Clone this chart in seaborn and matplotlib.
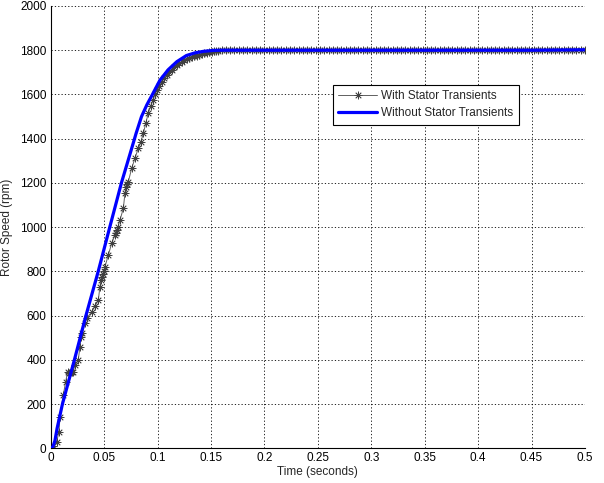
import numpy as np
import pandas as pd
import seaborn as sns
import matplotlib
matplotlib.use("Agg")
import matplotlib.pyplot as plt

# ------------------------------------------------------------
# Data (rotor speed start-up, rpm)
# ------------------------------------------------------------
# Without stator transients (smooth blue curve)
t_without = [0, 0.002, 0.004, 0.006, 0.011, 0.0222, 0.033, 0.0445, 0.0553,
             0.0662, 0.0742, 0.0800, 0.0850, 0.0900, 0.0950, 0.1023, 0.110,
             0.118, 0.127, 0.135, 0.143, 0.152, 0.160, 0.250, 0.350, 0.450,
             0.500]
speed_without = [0, 6, 35, 90, 200, 400, 600, 800, 1000,
                 1200, 1330, 1425, 1500, 1553, 1598, 1665, 1712,
                 1748, 1776, 1788, 1795, 1799, 1800, 1800, 1800, 1800,
                 1802]

# With stator transients (grey line, one marker per solver sample)
t_with = [0, 0.0025, 0.0056, 0.0078, 0.0087, 0.0118, 0.014, 0.0159, 0.0175,
          0.0195, 0.0212, 0.0227, 0.0258, 0.0274, 0.0284, 0.0296, 0.0321,
          0.0337, 0.0384, 0.0415, 0.0446, 0.0461, 0.0470, 0.0477, 0.0490,
          0.0500, 0.0508, 0.0539, 0.0571, 0.0602, 0.0610, 0.0618, 0.0630,
          0.0649, 0.0680, 0.0695, 0.0705, 0.0715, 0.0727, 0.0758, 0.0789,
          0.0820, 0.0845, 0.0867, 0.0890, 0.0913, 0.0937, 0.0960, 0.0976,
          0.0992, 0.1015, 0.1039, 0.1062, 0.1086, 0.1109, 0.1132, 0.1156,
          0.1180, 0.1203, 0.1226, 0.1250, 0.1273, 0.1297, 0.1320, 0.1343,
          0.1366, 0.1390, 0.1413, 0.1437, 0.1460, 0.1483, 0.1507, 0.1530,
          0.1550, 0.1565,
          0.160, 0.164, 0.168, 0.172, 0.176, 0.180, 0.184, 0.188, 0.192, 0.196,
          0.200, 0.204, 0.208, 0.212, 0.216, 0.220, 0.224, 0.228, 0.232, 0.236,
          0.240, 0.244, 0.248, 0.252, 0.256, 0.260, 0.264, 0.268, 0.272, 0.276,
          0.280, 0.284, 0.288, 0.292, 0.296, 0.300, 0.304, 0.308, 0.312, 0.316,
          0.320, 0.324, 0.328, 0.332, 0.336, 0.340, 0.344, 0.348, 0.352, 0.356,
          0.360, 0.364, 0.368, 0.372, 0.376, 0.380, 0.384, 0.388, 0.392, 0.396,
          0.400, 0.404, 0.408, 0.412, 0.416, 0.420, 0.424, 0.428, 0.432, 0.436,
          0.440, 0.444, 0.448, 0.452, 0.456, 0.460, 0.464, 0.468, 0.472, 0.476,
          0.480, 0.484, 0.488, 0.492, 0.496, 0.500]
speed_with = [7, 12, 30, 75, 143, 241, 301, 346, 340,
              343, 346, 377, 399, 459, 505, 520, 565,
              588, 618, 645, 671, 731, 760, 776, 790,
              800, 821, 874, 927, 964, 975, 987, 1000,
              1032, 1085, 1153, 1180, 1195, 1206, 1266, 1311,
              1357, 1387, 1424, 1470, 1515, 1548, 1575, 1600,
              1620, 1640, 1658, 1674, 1688, 1700, 1710, 1722,
              1733, 1741, 1748, 1754, 1759, 1764, 1768, 1772,
              1775, 1779, 1783, 1786, 1789, 1791, 1793, 1795,
              1797, 1798,
              1799, 1800, 1799, 1801, 1800, 1799, 1800, 1801, 1800, 1799,
              1800, 1801, 1800, 1799, 1800, 1800, 1801, 1799, 1800, 1800,
              1799, 1800, 1801, 1800, 1799, 1800, 1800, 1801, 1800, 1799,
              1800, 1801, 1800, 1799, 1800, 1800, 1801, 1800, 1799, 1800,
              1800, 1801, 1799, 1800, 1800, 1801, 1800, 1799, 1800, 1800,
              1801, 1800, 1799, 1800, 1801, 1800, 1800, 1799, 1800, 1801,
              1800, 1799, 1800, 1801, 1800, 1800, 1799, 1800, 1801, 1800,
              1799, 1800, 1801, 1800, 1800, 1799, 1801, 1800, 1799, 1800,
              1801, 1800, 1800, 1799, 1800, 1801]

x_ticks = [0, 0.05, 0.1, 0.15, 0.2, 0.25, 0.3, 0.35, 0.4, 0.45, 0.5]
x_tick_labels = ["0", "0.05", "0.1", "0.15", "0.2", "0.25", "0.3", "0.35",
                 "0.4", "0.45", "0.5"]
y_ticks = [0, 200, 400, 600, 800, 1000, 1200, 1400, 1600, 1800, 2000]

# ------------------------------------------------------------
# Style (MATLAB-like figure)
# ------------------------------------------------------------
sns.set_style("white")
plt.rcParams["font.family"] = ["Liberation Sans", "DejaVu Sans"]

fig = plt.figure(figsize=(6.04, 4.83), dpi=100)
ax = fig.add_axes([0.0839, 0.0718, 0.8846, 0.9158])

sns.lineplot(x=t_with, y=speed_with, ax=ax, sort=False, estimator=None,
             color="#606060", linewidth=0.7, marker=(8, 2, 0), markersize=5.5,
             markeredgewidth=0.55, markeredgecolor="#404040",
             label="With Stator Transients", zorder=2)
sns.lineplot(x=t_without, y=speed_without, ax=ax, sort=False, estimator=None,
             color="#0000ff", linewidth=2.3, label="Without Stator Transients",
             zorder=3)

ax.set_xlim(0, 0.5)
ax.set_ylim(0, 2000)
ax.set_xticks(x_ticks)
ax.set_xticklabels(x_tick_labels)
ax.set_yticks(y_ticks)

ax.grid(True, color="black", linestyle=(0, (1.5, 2.5)), linewidth=0.6)
ax.set_axisbelow(True)
for side in ["top", "right"]:
    ax.spines[side].set_visible(False)
for side in ["left", "bottom"]:
    ax.spines[side].set_color("black")
    ax.spines[side].set_linewidth(0.8)

ax.tick_params(direction="in", length=4, width=0.6, labelsize=8.5, pad=3,
               colors="black")
ax.set_xlabel("Time (seconds)", fontsize=8.5, labelpad=1)
ax.set_ylabel("Rotor Speed (rpm)", fontsize=8.5, labelpad=5)

leg = ax.legend(loc="upper left", bbox_to_anchor=(0.528, 0.822),
                fontsize=8.5, frameon=True, fancybox=False, edgecolor="black",
                framealpha=1, handlelength=3.3, borderpad=0.45,
                labelspacing=0.45, handletextpad=0.35, borderaxespad=0)
leg.get_frame().set_linewidth(0.8)

plt.savefig("out.png", dpi=100)
